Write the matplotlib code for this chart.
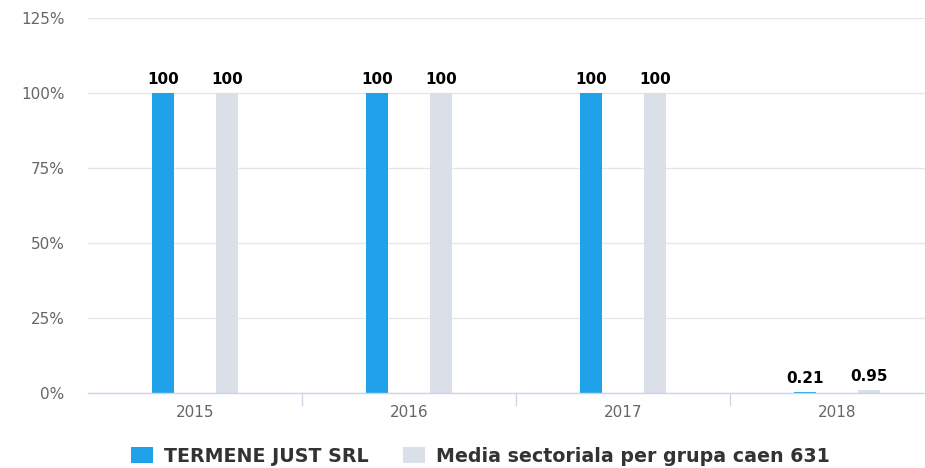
import matplotlib
matplotlib.use("Agg")
import matplotlib.pyplot as plt
import numpy as np
from matplotlib.patches import Patch

plt.rcParams["font.family"] = ["DejaVu Sans"]

categories = ["2015", "2016", "2017", "2018"]
company = [100, 100, 100, 0.21]
sector = [100, 100, 100, 0.95]
series_names = ["TERMENE JUST SRL", "Media sectoriala per grupa caen 631"]
yticks = [0, 25, 50, 75, 100, 125]
ytick_labels = ["0%", "25%", "50%", "75%", "100%", "125%"]

blue = "#1fa2ea"
grey = "#dadfe8"

fig = plt.figure(figsize=(9.25, 4.68), dpi=100)
ax = fig.add_axes([88/925, 1-393/468, (944-88)/925, (393-18)/468])

x = np.arange(len(categories))
w = 0.103
off = 0.15
ax.bar(x - off, company, w, color=blue, zorder=3)
ax.bar(x + off, sector, w, color=grey, zorder=3)

def fmt(v):
    return f"{v:g}"

for xi, v in zip(x, company):
    ax.text(xi - off, v + 2.0, fmt(v), ha="center", va="bottom",
            fontsize=11, fontweight="bold", color="#000000", zorder=4)
for xi, v in zip(x, sector):
    ax.text(xi + off, v + 2.0, fmt(v), ha="center", va="bottom",
            fontsize=11, fontweight="bold", color="#000000", zorder=4)

ax.set_xlim(-0.5, len(categories) - 0.5)
ax.set_ylim(0, 125)
ax.set_yticks(yticks)
ax.set_yticklabels(ytick_labels, fontsize=11, color="#666666")
ax.set_xticks(x)
ax.set_xticklabels(categories, fontsize=11, color="#666666")
ax.tick_params(axis="y", length=0, pad=17)
ax.tick_params(axis="x", length=0, pad=8.5)

ax.grid(axis="y", color="#e6e6e6", linewidth=1, zorder=0)
for s in ["top", "right", "left"]:
    ax.spines[s].set_visible(False)
ax.spines["bottom"].set_color("#ccd6eb")
ax.spines["bottom"].set_linewidth(1)
ax.spines["bottom"].set_zorder(5)

# category boundary ticks
for b in np.arange(0.5, len(categories) - 0.5, 1.0):
    ax.plot([b, b], [0, -4], color="#ccd6eb", linewidth=1, clip_on=False)

handles = [Patch(facecolor=blue, edgecolor="none"), Patch(facecolor=grey, edgecolor="none")]
leg = fig.legend(handles, series_names, loc="center", bbox_to_anchor=(480/925, 1-456/468),
                 ncol=2, frameon=False, handlelength=1.16, handleheight=0.9,
                 columnspacing=1.8, handletextpad=0.58, borderpad=0, borderaxespad=0,
                 prop={"family": "DejaVu Sans", "weight": "bold", "size": 13.7})
for t in leg.get_texts():
    t.set_color("#333333")

fig.savefig("out.png", dpi=100)
